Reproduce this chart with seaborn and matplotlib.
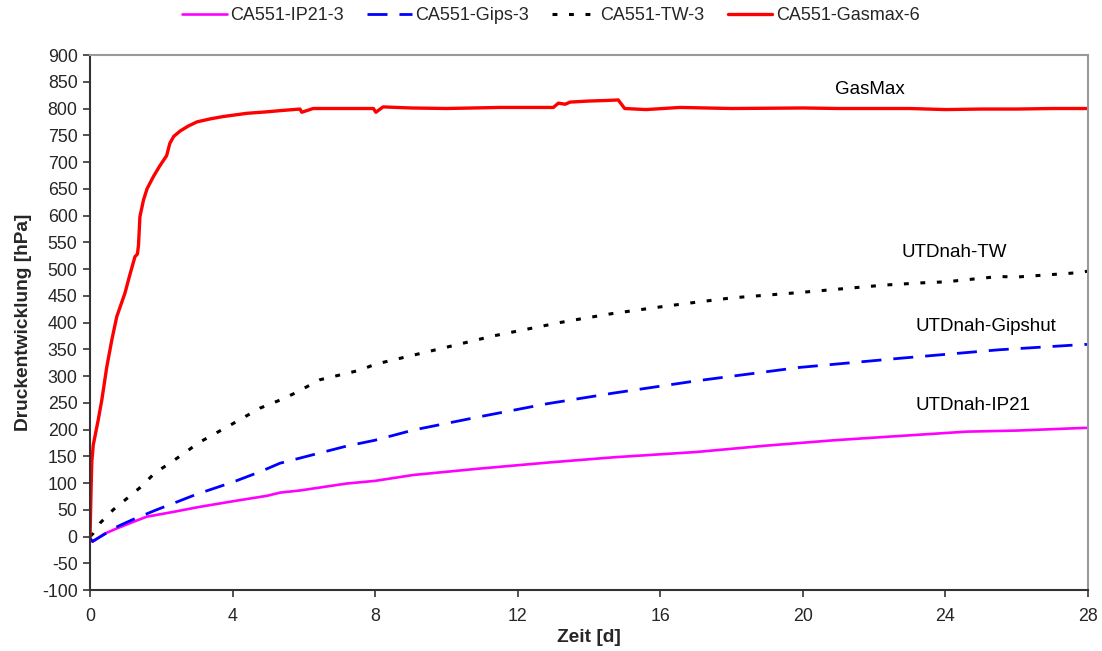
import matplotlib
matplotlib.use("Agg")
import matplotlib.pyplot as plt
import seaborn as sns
import numpy as np

# Zeit [d] and Druckentwicklung [hPa] for each test series
ip21_t = [0, 0.07, 0.4, 0.75, 1.2, 1.59, 2.34, 3.04, 4.02, 4.96, 5.33, 5.89, 7.2, 8.0, 9.07, 10.94,
          12.81, 14.68, 17.02, 19.0, 20.9, 22.5, 24.6, 26.0, 27.9, 28.0]
ip21_p = [-5, -10, 5, 15, 27, 37, 46, 55, 66, 76, 82, 86, 99, 104, 115, 127,
          138, 148, 158, 170, 180, 187, 196, 198, 203, 203]

gips_t = [0, 0.07, 0.3, 0.75, 1.21, 1.87, 2.53, 2.99, 4.02, 4.77, 5.33, 7.2, 8.0, 9.07, 10.94,
          12.81, 14.68, 17.02, 19.9, 22.7, 25.5, 27.9, 28.0]
gips_p = [-3, -9, 0, 18, 32, 50, 67, 79, 102, 121, 137, 169, 180, 199, 224,
          248, 268, 291, 316, 333, 349, 359, 359]

tw_t = [0, 0.09, 0.28, 0.65, 1.07, 1.45, 1.82, 2.24, 2.67, 3.04, 3.93, 4.77, 5.33, 5.75, 6.45,
        7.58, 8.0, 9.45, 11.32, 13.19, 13.7, 14.68, 16.09, 17.02, 18.0, 19.9, 22.3, 23.3, 24.0,
        25.5, 26.0, 27.7, 28.0]
tw_p = [0, 6, 25, 50, 73, 94, 119, 137, 157, 175, 208, 240, 255, 268, 293,
        311, 322, 345, 375, 400, 406, 417, 430, 438, 446, 456, 470, 474, 476,
        486, 485, 493, 496]

gasmax_t = [0, 0.03, 0.05, 0.09, 0.23, 0.33, 0.47, 0.61, 0.75, 0.98, 1.1, 1.26, 1.33, 1.36, 1.40,
            1.5, 1.6, 1.78, 1.95, 2.1, 2.15, 2.2, 2.24, 2.35, 2.53, 2.75, 3.0, 3.4, 3.74, 4.4,
            5.0, 5.33, 5.89, 5.94, 6.26, 7.0, 7.95, 8.02, 8.22, 9.0, 10.0, 11.5, 12.5, 13.0,
            13.14, 13.33, 13.47, 14.0, 14.5, 14.82, 15.0, 15.6, 16.55, 18.0, 20.0, 21.0, 22.0,
            23.0, 24.0, 25.0, 26.0, 27.0, 28.0]
gasmax_p = [0, 90, 140, 171, 218, 255, 317, 367, 411, 455, 485, 523, 528, 545, 598,
            629, 650, 673, 692, 707, 712, 725, 735, 748, 758, 767, 775, 781, 785, 791,
            794, 796, 799, 793, 800, 800, 800, 793, 803, 801, 800, 802, 802, 802,
            810, 808, 812, 814, 815, 816, 800, 798, 802, 800, 801, 800, 800,
            800, 798, 799, 799, 800, 800]

series_names = ["CA551-IP21-3", "CA551-Gips-3", "CA551-TW-3", "CA551-Gasmax-6"]
curve_labels = ["UTDnah-IP21", "UTDnah-Gipshut", "UTDnah-TW", "GasMax"]
label_pos = [(23.15, 244), (23.15, 392), (22.78, 530), (20.9, 835)]

sns.set_theme(style="white")
plt.rcParams["font.family"] = ["Liberation Sans", "DejaVu Sans"]
plt.rcParams["axes.unicode_minus"] = False

fig = plt.figure(figsize=(11.02, 6.51), dpi=100)
ax = fig.add_axes([0.0817, 0.0937, 0.9056, 0.8218])

styles = [
    dict(color="#ff00ff", lw=1.9, linestyle="-"),
    dict(color="#0000ff", lw=2.0, linestyle=(0, (7.2, 4.3))),
    dict(color="#000000", lw=2.2, linestyle=(0, (1.6, 3.8))),
    dict(color="#ff0000", lw=2.4, linestyle="-"),
]
data = [(ip21_t, ip21_p), (gips_t, gips_p), (tw_t, tw_p), (gasmax_t, gasmax_p)]

for (t, p), name, st in zip(data, series_names, styles):
    sns.lineplot(x=t, y=p, ax=ax, label=name, color=st["color"], linewidth=st["lw"],
                 linestyle=st["linestyle"], sort=False, estimator=None)

for txt, (x, y) in zip(curve_labels, label_pos):
    ax.text(x, y, txt, fontsize=13.5, color="black", va="center", ha="left")

ax.set_xlim(0, 28)
ax.set_ylim(-100, 900)
ax.set_xticks(np.arange(0, 29, 4))
ax.set_yticks(np.arange(-100, 901, 50))
ax.tick_params(axis="both", which="major", labelsize=12.8, direction="out",
               length=5, width=1.2, color="#333333", left=True, bottom=True, pad=4)
ax.tick_params(axis="x", pad=8)

for side in ["left", "bottom"]:
    ax.spines[side].set_color("#333333")
    ax.spines[side].set_linewidth(1.5)
for side in ["top", "right"]:
    ax.spines[side].set_color("#999999")
    ax.spines[side].set_linewidth(1.5)

ax.set_xlabel("Zeit [d]", fontsize=13.8, fontweight="bold", labelpad=3)
ax.set_ylabel("Druckentwicklung [hPa]", fontsize=13.8, fontweight="bold", labelpad=7)

leg = ax.legend(loc="center", bbox_to_anchor=(0.5, 1 - 16 / 651), bbox_transform=fig.transFigure,
                ncol=4, frameon=False, fontsize=13, handlelength=2.45, handletextpad=0.2,
                columnspacing=1.3)

fig.savefig("out.png", dpi=100, facecolor="white")
